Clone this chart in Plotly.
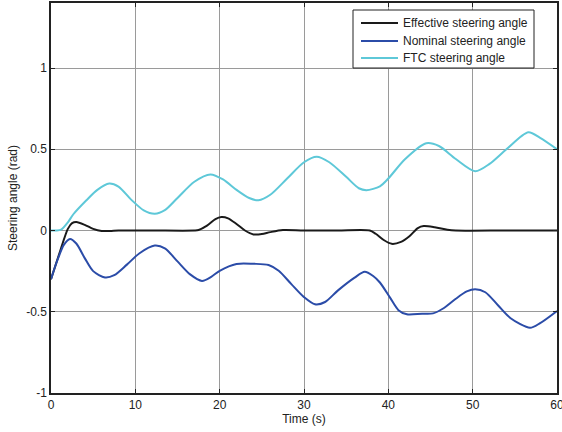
import plotly.graph_objects as go

# Time (s) and steering angles (rad)
t_ftc = [0, 0.6, 1.2, 2, 2.65, 4.2, 5.5, 6.9, 8, 9.5, 11, 12.3, 13.5, 15, 17, 18.9, 20.4, 22, 23.5, 24.6, 26, 28,
         30, 31.5, 33, 35, 36.5, 37.4, 39, 40, 42, 44.5, 46, 48, 50.3, 52, 54, 56.6, 58, 60]
ftc = [0, 0, 0.005, 0.05, 0.10, 0.186, 0.25, 0.289, 0.27, 0.19, 0.124, 0.103, 0.125, 0.2, 0.3, 0.345, 0.314, 0.25,
       0.2, 0.186, 0.22, 0.32, 0.42, 0.454, 0.42, 0.33, 0.26, 0.248, 0.272, 0.32, 0.44, 0.537, 0.52, 0.44,
       0.365, 0.41, 0.5, 0.605, 0.57, 0.5]

t_eff = [0, 0.5, 1, 1.5, 2, 2.5, 3, 4, 5, 6, 7, 8, 12, 17, 17.5, 18.5, 19.5, 20.2, 21, 22, 23, 24, 25, 26,
         27.5, 30, 34, 37.8, 38.5, 39.5, 40.4, 41.5, 42.5, 43.5, 44.2, 45.5, 47, 48, 54, 60]
eff = [-0.3, -0.22, -0.14, -0.06, 0.01, 0.045, 0.052, 0.035, 0.01, -0.003, -0.003, 0, 0, 0, 0.003, 0.03,
       0.07, 0.083, 0.075, 0.04, 0.0, -0.024, -0.022, -0.01, 0.003, 0, 0, 0, -0.02, -0.06, -0.082, -0.07,
       -0.035, 0.015, 0.027, 0.02, 0.005, 0, 0, 0]

t_nom = [0, 0.5, 1, 1.5, 2.25, 3, 4, 5, 6.4, 7.5, 9, 10.5, 12.3, 13.5, 15, 16.5, 17.9, 19, 20, 22, 24, 25.8,
         27, 28.5, 30, 31.3, 32.5, 34, 36, 37.2, 38.2, 39, 40.2, 41.2, 42.2, 44, 45.3, 46.5, 48, 49.3, 50.3,
         51.5, 53, 54.5, 56.8, 58, 60]
nom = [-0.3, -0.22, -0.15, -0.09, -0.052, -0.08, -0.17, -0.25, -0.289, -0.275, -0.21, -0.14, -0.093, -0.11,
       -0.19, -0.27, -0.31, -0.285, -0.248, -0.206, -0.205, -0.212, -0.248, -0.33, -0.41, -0.454, -0.44,
       -0.37, -0.29, -0.254, -0.28, -0.32, -0.413, -0.49, -0.516, -0.512, -0.51, -0.48, -0.42, -0.375,
       -0.361, -0.38, -0.46, -0.54, -0.599, -0.57, -0.495]

series_names = ["Effective steering angle", "Nominal steering angle", "FTC steering angle"]
series_colors = ["#1a1a1a", "#2b4ca8", "#5ec8d8"]

x_ticks = [0, 10, 20, 30, 40, 50, 60]
y_ticks = [-1, -0.5, 0, 0.5, 1]
y_tick_labels = ["-1", "-0.5", "0", "0.5", "1"]

FONT = dict(family="Liberation Sans, Arial", size=12, color="#222222")

W, H = 562, 432
ML, MR, MT, MB = 51, 5, 3, 39
PW, PH = W - ML - MR, H - MT - MB


def px_to_paper(px, py):
    return (px - ML) / PW, (H - MB - py) / PH


fig = go.Figure()
for tx, ty, name, color in zip([t_eff, t_nom, t_ftc], [eff, nom, ftc], series_names, series_colors):
    fig.add_trace(go.Scatter(x=tx, y=ty, mode="lines", name=name, showlegend=False,
                             line=dict(color=color, width=2, shape="spline", smoothing=0.8)))

axis_common = dict(showline=True, mirror="ticks", linecolor="#222222", linewidth=1.5,
                   ticks="inside", ticklen=4, tickcolor="#222222",
                   showgrid=True, gridcolor="#9a9a9a", gridwidth=1, zeroline=False,
                   ticklabeloverflow="allow", tickfont=FONT, automargin=False)

fig.update_xaxes(range=[0, 60], tickvals=x_ticks,
                 title=dict(text="Time (s)", standoff=3, font=FONT), **axis_common)
fig.update_yaxes(range=[-1, 1.4], tickvals=y_ticks, ticktext=y_tick_labels,
                 title=dict(text="Steering angle (rad)", standoff=6, font=FONT),
                 **axis_common)

# Legend box (drawn manually to match the compact MATLAB legend)
x0, y0 = px_to_paper(353, 10)
x1, y1 = px_to_paper(534, 68)
shapes = [dict(type="rect", xref="paper", yref="paper", x0=x0, y0=y1, x1=x1, y1=y0,
               line=dict(color="#222222", width=1), fillcolor="white", layer="above")]
annotations = []
row_y = [23, 41, 58]
for ry, name, color in zip(row_y, series_names, series_colors):
    lx0, ly = px_to_paper(361, ry)
    lx1, _ = px_to_paper(398, ry)
    tx0, _ = px_to_paper(401, ry)
    shapes.append(dict(type="line", xref="paper", yref="paper", x0=lx0, x1=lx1, y0=ly, y1=ly,
                       line=dict(color=color, width=2), layer="above"))
    annotations.append(dict(xref="paper", yref="paper", x=tx0, y=ly, text=name, showarrow=False,
                            xanchor="left", yanchor="middle", font=FONT))

fig.update_layout(
    width=W, height=H,
    margin=dict(l=ML, r=MR, t=MT, b=MB),
    paper_bgcolor="white", plot_bgcolor="white",
    showlegend=False,
    shapes=shapes, annotations=annotations,
)

fig.write_html("out.html")
